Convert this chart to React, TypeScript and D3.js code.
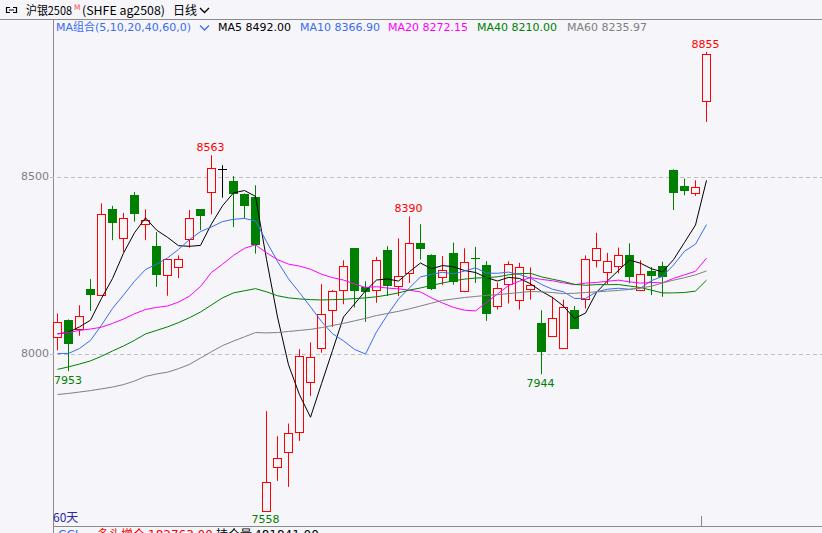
import React from "react";
import * as d3 from "d3";

const W = 822;
const H = 533;
const BG = "#f5f5fa";
const UP = "#ff0000";
const DOWN = "#008000";
const FONT = "'DejaVu Sans', 'Noto Sans CJK SC', sans-serif";
const CJK = "'Noto Sans CJK SC', 'DejaVu Sans', sans-serif";

// ---- daily OHLC, 60 sessions ----
const opens = [8050, 8097, 8071, 8184, 8167, 8412, 8329, 8450, 8370, 8306, 8224, 8247, 8325, 8410, 8459, 8524, 8489, 8453, 8444, 7558,
  7681, 7725, 7780, 7921, 8017, 8127, 8181, 8300, 8191, 8182, 8295, 8193, 8229, 8315, 8281, 8219, 8287, 8180, 8274, 8252,
  8137, 8200, 8155, 8185, 8090, 8053, 8019, 8125, 8158, 8266, 8233, 8250, 8281, 8182, 8235, 8249, 8521, 8475, 8455, 8716];
const highs = [8116, 8099, 8139, 8213, 8427, 8420, 8400, 8459, 8410, 8346, 8269, 8280, 8408, 8410, 8563, 8535, 8504, 8455, 8478, 7840,
  7769, 7805, 8015, 8034, 8199, 8182, 8266, 8300, 8207, 8276, 8306, 8328, 8390, 8368, 8283, 8278, 8316, 8300, 8304, 8264,
  8203, 8263, 8259, 8246, 8125, 8163, 8155, 8137, 8280, 8344, 8287, 8302, 8314, 8266, 8247, 8262, 8523, 8497, 8492, 8855];
const lows = [8012, 7953, 8053, 8123, 8167, 8323, 8290, 8375, 8323, 8191, 8166, 8216, 8302, 8351, 8396, 8443, 8360, 8384, 8285, 7558,
  7643, 7626, 7756, 7883, 8005, 8078, 8142, 8133, 8092, 8146, 8165, 8165, 8202, 8268, 8182, 8196, 8197, 8176, 8202, 8095,
  8127, 8144, 8127, 8155, 7944, 8050, 8015, 8072, 8130, 8246, 8199, 8229, 8201, 8179, 8168, 8163, 8408, 8450, 8448, 8657];
const closes = [8092, 8029, 8108, 8168, 8396, 8372, 8387, 8396, 8379, 8224, 8269, 8269, 8387, 8392, 8528, 8524, 8452, 8420, 8309, 7640,
  7709, 7777, 7996, 7992, 8113, 8178, 8251, 8180, 8177, 8266, 8193, 8221, 8314, 8298, 8185, 8238, 8204, 8261, 8270, 8114,
  8189, 8255, 8246, 8195, 8007, 8102, 8133, 8072, 8271, 8300, 8264, 8281, 8218, 8226, 8222, 8218, 8455, 8462, 8472, 8850];

// ---- moving averages as drawn ----
const ma5 = [8058, 8063, 8078, 8097, 8158.6, 8214.6, 8286.2, 8343.8, 8386.0, 8351.6, 8331.0, 8307.4, 8305.6, 8308.2, 8369.0, 8420.0, 8456.6, 8463.2, 8446.6, 8269.0,
  8106.0, 7971.0, 7886.2, 7822.8, 7917.4, 8011.2, 8106.0, 8142.8, 8179.8, 8210.4, 8213.4, 8207.4, 8234.2, 8258.4, 8242.2, 8251.2, 8247.8, 8237.2, 8231.6, 8217.4,
  8207.6, 8217.8, 8214.8, 8199.8, 8178.4, 8161.0, 8136.6, 8101.8, 8117.0, 8175.6, 8208.0, 8237.6, 8266.8, 8257.8, 8242.2, 8233.0, 8267.8, 8316.6, 8365.8, 8492.0];
const ma10 = [8003, 8003, 8017, 8040, 8083, 8130, 8168, 8207, 8240, 8255.1, 8272.8, 8296.8, 8324.7, 8347.1, 8360.3, 8375.5, 8382.0, 8384.4, 8377.4, 8319.0,
  8263.0, 8213.8, 8174.7, 8134.7, 8093.2, 8058.6, 8038.5, 8014.5, 8001.3, 8063.9, 8112.3, 8156.7, 8188.5, 8219.1, 8226.3, 8232.3, 8227.6, 8235.7, 8245.0, 8229.8,
  8229.4, 8232.8, 8226.0, 8215.7, 8197.9, 8184.3, 8177.2, 8158.3, 8158.4, 8177.0, 8184.5, 8187.1, 8184.3, 8187.4, 8208.9, 8220.5, 8252.7, 8291.7, 8311.8, 8366.9];
const ma20 = [8059, 8062, 8068, 8072, 8077, 8088, 8100, 8115, 8127, 8133, 8137, 8148, 8165, 8192, 8232, 8255, 8280, 8300, 8310, 8287.1,
  8267.9, 8255.3, 8249.7, 8240.9, 8226.8, 8217.1, 8210.3, 8199.5, 8189.4, 8191.5, 8187.7, 8185.3, 8181.6, 8176.9, 8159.8, 8145.5, 8133.1, 8125.1, 8123.2, 8146.9,
  8170.9, 8194.8, 8207.3, 8217.4, 8212.1, 8208.3, 8202.4, 8197.0, 8201.7, 8203.4, 8207.0, 8210.0, 8205.2, 8201.6, 8203.4, 8202.4, 8215.0, 8225.0, 8235.1, 8272.15];
const ma40 = [7958, 7965, 7973, 7982, 7995, 8010, 8024, 8040, 8058, 8068, 8078, 8090, 8104, 8120, 8140, 8160, 8174, 8180, 8186, 8177,
  8166, 8160, 8157, 8155, 8154, 8155, 8156, 8158, 8160, 8163, 8168, 8174, 8182, 8188, 8195, 8202, 8208, 8213, 8216, 8217.0,
  8219.4, 8225.0, 8228.5, 8229.2, 8219.4, 8212.7, 8206.3, 8198.2, 8195.5, 8197.4, 8197.3, 8197.6, 8193.4, 8189.2, 8181.6, 8173.9, 8174.0, 8175.1, 8179.1, 8210.0];
const ma60 = [7887, 7890, 7894, 7898, 7903, 7908, 7915, 7925, 7938, 7945, 7950, 7960, 7972, 7990, 8008, 8025, 8038, 8050, 8062, 8061,
  8062, 8065, 8068, 8071, 8076, 8082, 8088, 8095, 8102, 8110, 8116, 8122, 8129, 8137, 8145, 8153, 8157, 8161, 8164, 8167,
  8169, 8172, 8175, 8178, 8177, 8175, 8172, 8173, 8175, 8177, 8179, 8181, 8184, 8188, 8193, 8202, 8210, 8217, 8225, 8235.97];

const maNames = ["MA5", "MA10", "MA20", "MA40", "MA60"];
const maColors = ["#000000", "#3a6df0", "#ff00ff", "#008000", "#808080"];
const maSeries = [ma5, ma10, ma20, ma40, ma60];
const maLegendX = [218, 300, 388, 477, 567];

const yTicks = [8000, 8500];
const peakIdx = [14, 32, 59];
const troughIdx = [1, 19, 44];

const x = d3.scaleLinear().domain([0, 59]).range([57.5, 706.5]);
const y = d3.scaleLinear().domain([8000, 8500]).range([354.5, 177.5]);

const crisp = (v: number) => Math.round(v) + 0.5;

export default function App() {
  const line = d3
    .line<number>()
    .x((_, i) => x(i))
    .y((d) => y(d));
  const fmt2 = d3.format(".2f");
  const fmt0 = d3.format("d");

  return (
    <svg width={W} height={H} style={{ position: "fixed", left: 0, top: 0, background: BG }}>
      <rect x={0} y={0} width={W} height={H} fill={BG} />
      {/* header row */}
      <path d="M10 7.5 H6.5 V12.5 H10 M13 7.5 H16.5 V12.5 H13 M9 10 H14" fill="none" stroke="#000" strokeWidth={1.2} />
      <text x={26} y={14.5} fontFamily={CJK} fontSize={12} fill="#000" textLength={46} lengthAdjust="spacingAndGlyphs">沪银2508</text>
      <text x={74} y={10} fontFamily={FONT} fontSize={7.5} fill="#ff5050">M</text>
      <text x={82} y={14.5} fontFamily={CJK} fontSize={12} fill="#000" textLength={83} lengthAdjust="spacingAndGlyphs">(SHFE  ag2508)</text>
      <text x={173} y={14.5} fontFamily={CJK} fontSize={12} fill="#000">日线</text>
      <path d="M200 8 l4.5 4.5 l4.5 -4.5" fill="none" stroke="#000" strokeWidth={1.3} />
      <line x1={0} x2={W} y1={19.5} y2={19.5} stroke="#8a8a8a" />

      {/* MA legend row */}
      <text x={56} y={31} fontFamily={FONT} fontSize={11} fill="#3a6df0">MA组合(5,10,20,40,60,0)</text>
      <path d="M200 25.5 l4.5 4.5 l4.5 -4.5" fill="none" stroke="#3a6df0" strokeWidth={1.3} />
      {maNames.map((n, k) => (
        <text key={n} x={maLegendX[k]} y={31} fontFamily={FONT} fontSize={11} fill={maColors[k]}>
          {`${n} ${fmt2(maSeries[k][maSeries[k].length - 1])}`}
        </text>
      ))}

      {/* axes */}
      <line x1={53.5} x2={53.5} y1={19.5} y2={H} stroke="#8a8a8a" />
      <line x1={53} x2={W} y1={526.5} y2={526.5} stroke="#8a8a8a" />
      {yTicks.map((t) => (
        <g key={t}>
          <line x1={50} x2={W} y1={crisp(y(t)) - 1} y2={crisp(y(t)) - 1} stroke="#c0c0c0" strokeDasharray="4,3" />
          <text x={49} y={y(t) - 1} dy="0.35em" textAnchor="end" fontFamily={FONT} fontSize={11} fill="#7f7f7f">
            {t}
          </text>
        </g>
      ))}

      {/* candles */}
      {closes.map((c, i) => {
        const o = opens[i];
        const cx = x(i);
        const up = c > o;
        const flat = c === o;
        const col = flat ? "#000" : up ? UP : DOWN;
        const yo = y(o);
        const yc = y(c);
        const top = Math.round(Math.min(yo, yc));
        const bot = Math.round(Math.max(yo, yc));
        return (
          <g key={i}>
            <line x1={cx} x2={cx} y1={y(highs[i])} y2={y(lows[i])} stroke={col} strokeWidth={1} />
            {flat ? (
              <line x1={cx - 4.5} x2={cx + 4.5} y1={top + 0.5} y2={top + 0.5} stroke={col} />
            ) : up ? (
              <rect x={cx - 4} y={top + 0.5} width={8} height={Math.max(bot - top, 1)} fill={BG} stroke={col} />
            ) : (
              <rect x={cx - 4.5} y={top} width={9} height={Math.max(bot - top, 1)} fill={col} />
            )}
          </g>
        );
      })}

      {/* moving averages */}
      {maSeries.map((s, k) => (
        <path key={k} d={line(s) || ""} fill="none" stroke={maColors[k]} strokeWidth={1} />
      ))}

      {/* extreme labels */}
      {peakIdx.map((i) => (
        <text key={"p" + i} x={x(i) - 1} y={y(highs[i]) - 4} textAnchor="middle" fontFamily={FONT} fontSize={11} fill={UP}>
          {fmt0(highs[i])}
        </text>
      ))}
      {troughIdx.map((i) => (
        <text key={"t" + i} x={Math.max(x(i) - 1, 54 + 14)} y={y(lows[i]) + 12.5} textAnchor="middle" fontFamily={FONT} fontSize={11} fill={DOWN}>
          {fmt0(lows[i])}
        </text>
      ))}

      {/* bottom */}
      <text x={53} y={522} fontFamily={CJK} fontSize={12} fill="#2a2aa8">60天</text>
      <line x1={701.5} x2={701.5} y1={516} y2={526} stroke="#8a8a8a" />
      <text x={58} y={538.5} fontFamily={FONT} fontSize={12} fill="#3a6df0">CCL</text>
      <text x={97} y={538.5} fontFamily={CJK} fontSize={12} fill="#ff0000">多头增仓</text>
      <text x={148} y={538.5} fontFamily={FONT} fontSize={12} fill="#ff0000">182763.00</text>
      <text x={216} y={538.5} fontFamily={CJK} fontSize={12} fill="#000">持仓量</text>
      <text x={254} y={538.5} fontFamily={FONT} fontSize={12} fill="#000">481841.00</text>
    </svg>
  );
}
